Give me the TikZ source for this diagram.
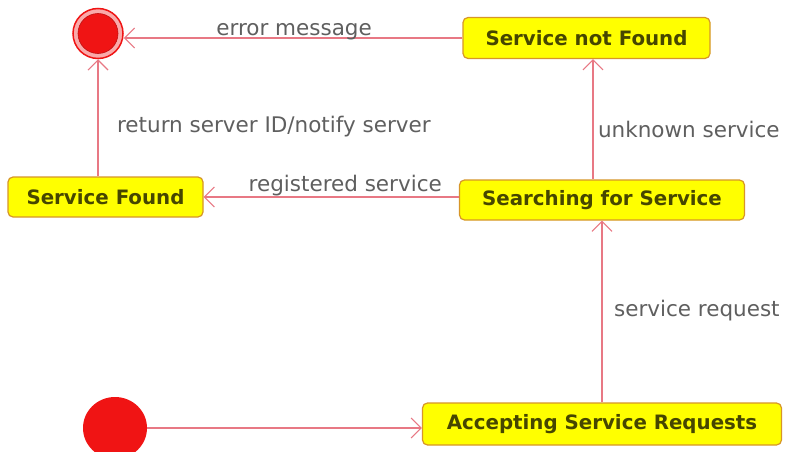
\documentclass[tikz,border=0pt]{standalone}
\usepackage{fontspec}
\setmainfont{DejaVu Sans}
\usetikzlibrary{arrows.meta,shapes.geometric}
\definecolor{arr}{RGB}{232,120,132}
\definecolor{lbl}{RGB}{95,95,95}
\definecolor{stfill}{RGB}{255,255,0}
\definecolor{stdraw}{RGB}{215,150,40}
\definecolor{sttext}{RGB}{70,70,0}
\definecolor{dot}{RGB}{240,20,20}
\definecolor{ring}{RGB}{250,170,170}
\tikzset{
  statebox/.style={draw=stdraw, line width=1.2pt, fill=stfill, rounded corners=5pt,
    text=sttext, font=\fontsize{19.8}{22}\selectfont\bfseries, inner sep=0pt},
  conn/.style={draw=arr, line width=1.5pt, -{Straight Barb[length=10pt,width=20pt,line width=1.1pt]}},
  lab/.style={text=lbl, font=\fontsize{21.5}{24}\selectfont}
}
\begin{document}
\begin{tikzpicture}[x=1pt,y=-1pt]
\useasboundingbox (0,0) rectangle (788,452);
\fill[white] (0,0) rectangle (788,452);
% states
\node[statebox, minimum width=247pt, minimum height=41pt] (snf) at (586.5,38) {Service not Found};
\node[statebox, minimum width=195pt, minimum height=40pt] (sf) at (105.5,197) {Service Found};
\node[statebox, minimum width=285pt, minimum height=40pt] (sfs) at (602,200) {Searching for Service};
\node[statebox, minimum width=359pt, minimum height=42pt] (asr) at (602,424) {Accepting Service Requests};
% final state
\node[circle, draw=dot, line width=1.5pt, fill=ring, minimum size=50pt, inner sep=0pt] (fin) at (98,33.5) {};
\node[circle, draw=dot!80!black, line width=0.6pt, fill=dot, minimum size=40pt, inner sep=0pt] (fininner) at (98,33.5) {};
% initial state
\node[ellipse, fill=dot, minimum width=64pt, minimum height=62pt, inner sep=0pt] (ini) at (115,428) {};
% connectors
\draw[conn] (snf.west) -- (fin.east |- snf.west) node[lab, midway, above=-6pt, xshift=1pt] {error message};
\draw[conn] (sf.north -| fin.south) -- (fin.south) node[lab, midway, right=15pt, yshift=-9pt] {return server ID/notify server};
\draw[conn] (sfs.west |- sf.east) -- (sf.east) node[lab, midway, above=-3pt, xshift=14pt] {registered service};
\draw[conn] (sfs.north -| 593,0) -- (snf.south -| 593,0) node[lab, midway, right=1pt, yshift=-10pt] {unknown service};
\draw[conn] (asr.north) -- (sfs.south) node[lab, midway, right=8pt, yshift=1pt] {service request};
\draw[conn] (ini.east) -- (asr.west |- ini.east);
\end{tikzpicture}
\end{document}
